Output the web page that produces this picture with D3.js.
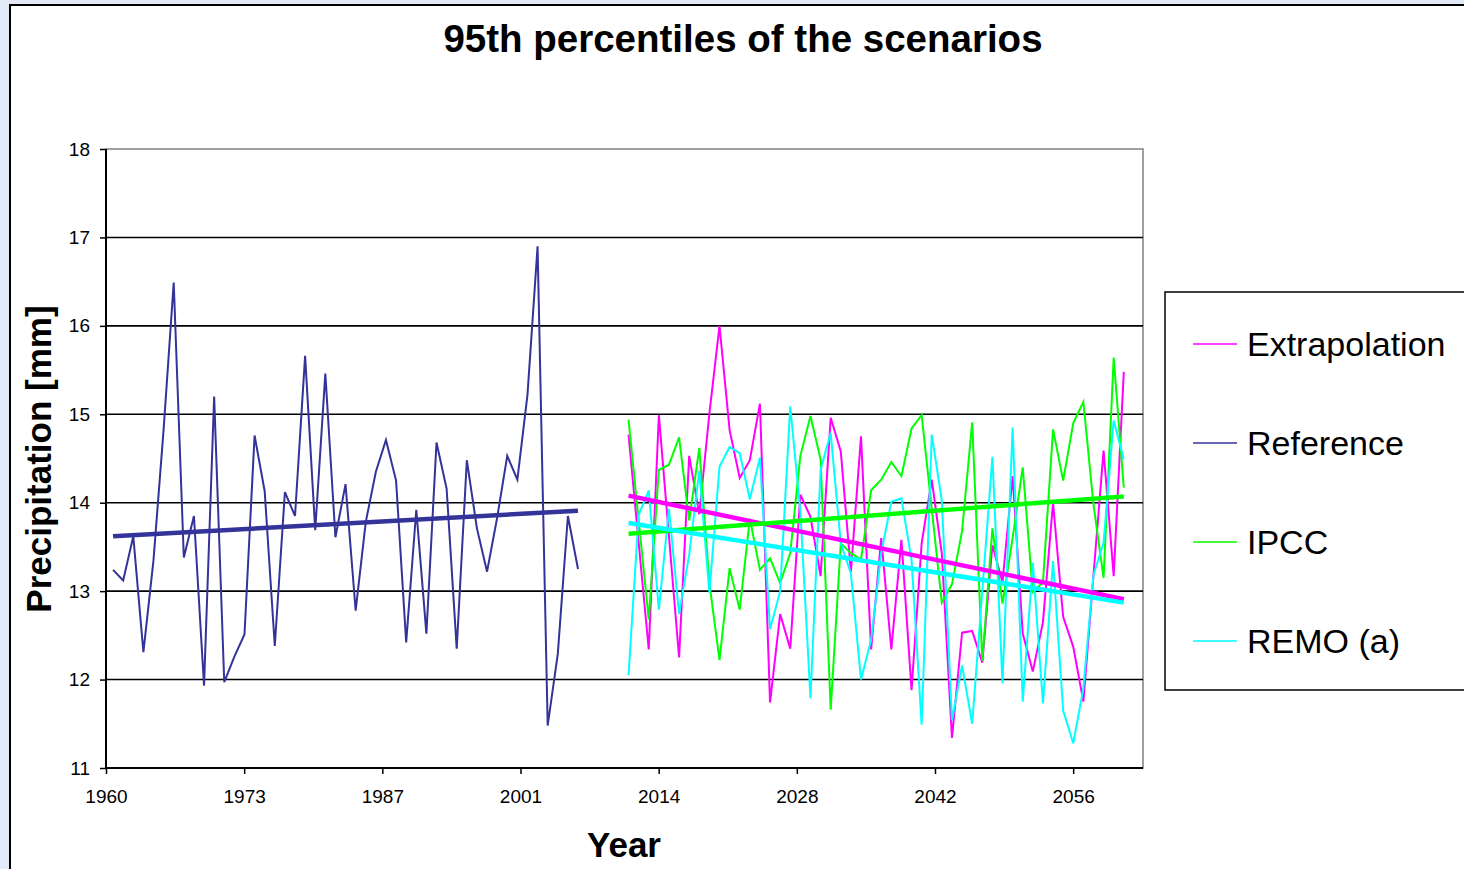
<!DOCTYPE html>
<html>
<head>
<meta charset="utf-8">
<script src="https://cdn.jsdelivr.net/npm/d3@7"></script>
<style>
  body { margin: 0; background: #e2eaf5; overflow: hidden; }
  text { font-family: "Liberation Sans", Arial, sans-serif; }
</style>
</head>
<body>
<svg id="chart" width="1464" height="869"></svg>
<script>
// ---- data ----
var refYears = d3.range(1961, 2008);
var refValues = [13.24, 13.12, 13.62, 12.31, 13.35, 14.83, 16.49, 13.38, 13.85, 11.93,
  15.20, 11.97, 12.26, 12.51, 14.76, 14.13, 12.38, 14.12, 13.85, 15.66,
  13.69, 15.46, 13.61, 14.21, 12.78, 13.78, 14.35, 14.71, 14.25, 12.42,
  13.92, 12.52, 14.68, 14.16, 12.35, 14.48, 13.71, 13.22, 13.83, 14.53,
  14.26, 15.22, 16.90, 11.48, 12.29, 13.85, 13.25];

var scenYears = d3.range(2012, 2062);
var extrapValues = [14.77, 13.55, 12.34, 14.99, 13.62, 12.25, 14.53, 13.87, 15.01, 16.00,
  14.82, 14.28, 14.48, 15.12, 11.74, 12.74, 12.35, 14.09, 13.84, 13.17,
  14.96, 14.58, 13.22, 14.75, 12.34, 13.60, 12.34, 13.58, 11.88, 13.54,
  14.26, 13.42, 11.34, 12.53, 12.55, 12.19, 13.52, 13.10, 14.30, 12.52,
  12.09, 12.65, 14.00, 12.71, 12.37, 11.75, 13.18, 14.59, 13.17, 15.48];
var ipccValues = [14.94, 13.80, 12.68, 14.37, 14.43, 14.74, 13.80, 14.62, 13.09, 12.22,
  13.26, 12.79, 13.82, 13.24, 13.37, 13.09, 13.43, 14.53, 14.98, 14.49,
  11.66, 13.54, 13.43, 13.36, 14.14, 14.26, 14.46, 14.30, 14.84, 14.99,
  13.93, 12.87, 13.08, 13.68, 14.91, 12.21, 13.71, 12.86, 13.60, 14.40,
  12.99, 13.10, 14.83, 14.25, 14.90, 15.14, 13.98, 13.15, 15.64, 14.17];
var remoValues = [12.05, 13.86, 14.14, 12.79, 13.93, 12.74, 13.41, 14.36, 12.98, 14.41,
  14.63, 14.56, 14.04, 14.51, 12.57, 13.00, 15.09, 13.90, 11.79, 14.37,
  14.79, 13.54, 13.20, 12.00, 12.45, 13.43, 14.01, 14.05, 13.35, 11.49,
  14.77, 14.02, 11.54, 12.16, 11.50, 13.00, 14.52, 11.96, 14.85, 11.75,
  13.32, 11.73, 13.34, 11.65, 11.28, 11.90, 13.18, 13.55, 14.93, 14.49];

// trend lines: value at first and last year
var refTrend = [13.62, 13.91];
var extrapTrend = [14.08, 12.91];
var ipccTrend = [13.65, 14.07];
var remoTrend = [13.77, 12.87];

var xTickLabels = ["1960", "1973", "1987", "2001", "2014", "2028", "2042", "2056"];
var yTicks = [11, 12, 13, 14, 15, 16, 17, 18];

var legendNames = ["Extrapolation", "Reference", "IPCC", "REMO (a)"];
var legendColors = ["#ff00ff", "#333399", "#00ff00", "#00ffff"];

// ---- drawing ----
var svg = d3.select("#chart");
var pLeft = 106, pRight = 1143, pTop = 149, pBottom = 768;
var xMin = 1960.3, xMax = 2062.9, xStep = 13.67;

var x = d3.scaleLinear().domain([xMin, xMax]).range([pLeft, pRight]);
var y = d3.scaleLinear().domain([11, 18]).range([pBottom, pTop]);

// chart area
svg.append("rect")
  .attr("x", 10).attr("y", 5).attr("width", 1480).attr("height", 900)
  .attr("fill", "white").attr("stroke", "black").attr("stroke-width", 2);

svg.append("text")
  .attr("x", 743).attr("y", 52)
  .attr("text-anchor", "middle")
  .attr("font-size", "38.5px").attr("font-weight", "bold")
  .text("95th percentiles of the scenarios");

// plot frame (gray top/right)
svg.append("rect")
  .attr("x", pLeft).attr("y", pTop).attr("width", pRight - pLeft).attr("height", pBottom - pTop)
  .attr("fill", "white").attr("stroke", "#808080").attr("stroke-width", 1.5);

// gridlines
svg.append("g").selectAll("line").data(yTicks.slice(1, -1))
  .enter().append("line")
  .attr("x1", pLeft).attr("x2", pRight)
  .attr("y1", function(d) { return y(d); })
  .attr("y2", function(d) { return y(d); })
  .attr("stroke", "black").attr("stroke-width", 1.6);

// axes
var yAxis = d3.axisLeft(y).tickValues(yTicks).tickSize(6).tickPadding(10).tickFormat(d3.format("d"));
var gy = svg.append("g").attr("transform", "translate(" + pLeft + ",0)").call(yAxis);

var xTickVals = xTickLabels.map(function(d, i) { return xMin + i * xStep; });
var xAxis = d3.axisBottom(x).tickValues(xTickVals).tickSize(6).tickPadding(16)
  .tickFormat(function(d, i) { return xTickLabels[i]; });
var gx = svg.append("g").attr("transform", "translate(0," + pBottom + ")").call(xAxis);

[gx, gy].forEach(function(g) {
  g.select(".domain").remove();
  g.selectAll(".tick line").attr("stroke", "black").attr("stroke-width", 1.5);
  g.selectAll(".tick text").attr("font-size", "19px").attr("fill", "black")
    .style("font-family", "'Liberation Sans', Arial, sans-serif");
});

svg.append("line").attr("x1", pLeft).attr("x2", pLeft).attr("y1", pTop).attr("y2", pBottom)
  .attr("stroke", "black").attr("stroke-width", 2);
svg.append("line").attr("x1", pLeft).attr("x2", pRight).attr("y1", pBottom).attr("y2", pBottom)
  .attr("stroke", "black").attr("stroke-width", 2);

// axis titles
svg.append("text")
  .attr("transform", "translate(51,459) rotate(-90)")
  .attr("text-anchor", "middle")
  .attr("font-size", "35px").attr("font-weight", "bold")
  .text("Precipitation [mm]");

svg.append("text")
  .attr("x", 624).attr("y", 857)
  .attr("text-anchor", "middle")
  .attr("font-size", "35px").attr("font-weight", "bold")
  .text("Year");

// series
var line = d3.line()
  .x(function(d) { return x(d[0]); })
  .y(function(d) { return y(d[1]); });

function zip(years, vals) {
  return vals.map(function(v, i) { return [years[i], v]; });
}

var series = [
  { years: scenYears, values: extrapValues, trend: extrapTrend, color: legendColors[0] },
  { years: refYears, values: refValues, trend: refTrend, color: legendColors[1] },
  { years: scenYears, values: ipccValues, trend: ipccTrend, color: legendColors[2] },
  { years: scenYears, values: remoValues, trend: remoTrend, color: legendColors[3] }
];

var gLines = svg.append("g");
series.forEach(function(s) {
  gLines.append("path")
    .attr("d", line(zip(s.years, s.values)))
    .attr("fill", "none")
    .attr("stroke", s.color)
    .attr("stroke-width", 2)
    .attr("stroke-linejoin", "miter");
});
series.forEach(function(s) {
  var ends = [[s.years[0], s.trend[0]], [s.years[s.years.length - 1], s.trend[1]]];
  gLines.append("path")
    .attr("d", line(ends))
    .attr("fill", "none")
    .attr("stroke", s.color)
    .attr("stroke-width", 4.5);
});

// legend
var legend = svg.append("g");
legend.append("rect")
  .attr("x", 1165).attr("y", 292).attr("width", 330).attr("height", 398)
  .attr("fill", "white").attr("stroke", "black").attr("stroke-width", 1.5);

var entry = legend.selectAll("g.entry").data(legendNames)
  .enter().append("g").attr("class", "entry")
  .attr("transform", function(d, i) { return "translate(0," + (344 + i * 99) + ")"; });
entry.append("line")
  .attr("x1", 1193).attr("x2", 1237).attr("y1", 0).attr("y2", 0)
  .attr("stroke", function(d, i) { return legendColors[i]; })
  .attr("stroke-width", 1.5);
entry.append("text")
  .attr("x", 1247).attr("y", 12)
  .attr("font-size", "34px")
  .text(function(d) { return d; });
</script>
</body>
</html>
